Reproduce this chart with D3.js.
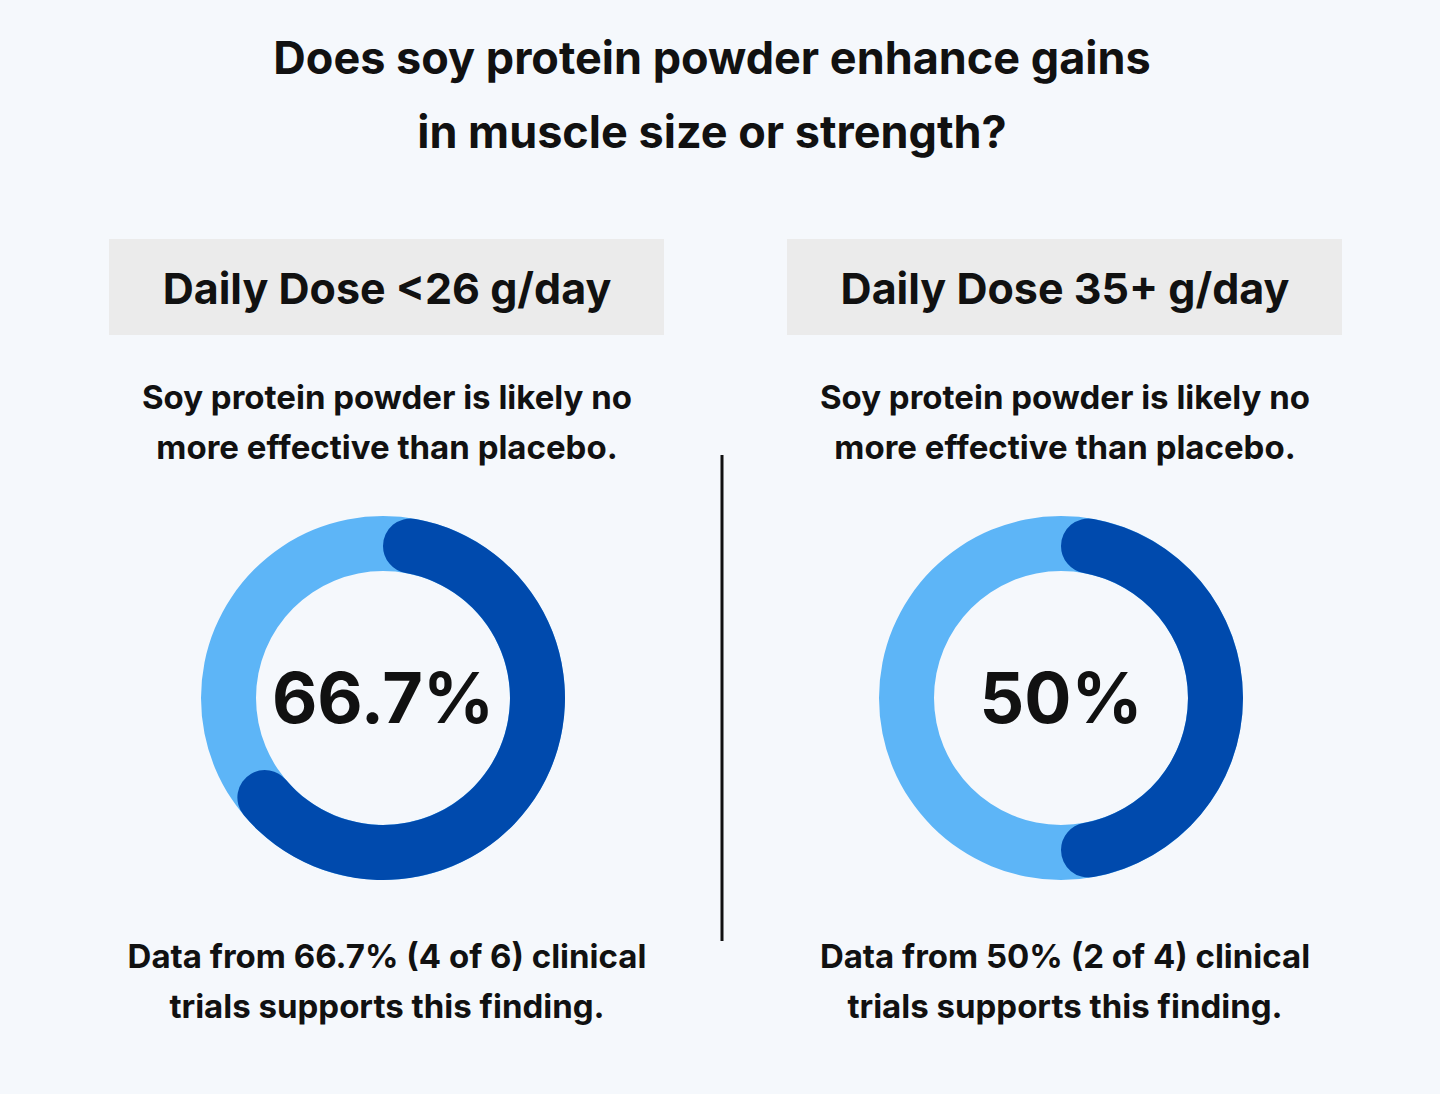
<!DOCTYPE html>
<html>
<head>
<meta charset="utf-8">
<style>
  body { margin: 0; background: #F5F8FC; }
  svg { display: block; font-family: Inter, "Liberation Sans", sans-serif; font-weight: 700; }
</style>
</head>
<body>
<div id="chart"></div>
<script src="https://cdn.jsdelivr.net/npm/d3@7"></script>
<script>
const titleLines = ["Does soy protein powder enhance gains", "in muscle size or strength?"];
const panels = ["Daily Dose <26 g/day", "Daily Dose 35+ g/day"];
const findings = [
  ["Soy protein powder is likely no", "more effective than placebo."],
  ["Soy protein powder is likely no", "more effective than placebo."]
];
const shares = [66.7, 50];
const shareLabels = ["66.7%", "50%"];
const notes = [
  ["Data from 66.7% (4 of 6) clinical", "trials supports this finding."],
  ["Data from 50% (2 of 4) clinical", "trials supports this finding."]
];

const width = 1440, height = 1094;
const svg = d3.select("#chart").append("svg")
  .attr("width", width).attr("height", height);

svg.selectAll(".title").data(titleLines).enter().append("text")
  .attr("x", 712).attr("y", (d, i) => 74 + i * 74)
  .attr("text-anchor", "middle").style("font-size", "45px").attr("fill", "#111")
  .text(d => d);

// panel centres
const x = d3.scalePoint().domain(panels).range([387, 1052]);
const angle = d3.scaleLinear().domain([0, 100]).range([0, 2 * Math.PI]);
const rOut = 182, rIn = 127;
const ring = d3.arc().innerRadius(rIn).outerRadius(rOut);
const cap = d3.arc().innerRadius(rIn).outerRadius(rOut).cornerRadius((rOut - rIn) / 2);

svg.append("line").attr("x1", 722).attr("x2", 722).attr("y1", 455).attr("y2", 941)
  .attr("stroke", "#111").attr("stroke-width", 3);

panels.forEach((p, i) => {
  const cx = x(p) + (i === 1 ? 13 : 0);
  const g = svg.append("g");
  g.append("rect").attr("x", cx - 278).attr("y", 239).attr("width", 555).attr("height", 96)
    .attr("fill", "#EBEBEB");
  g.append("text").attr("x", cx).attr("y", 304).attr("text-anchor", "middle")
    .style("font-size", "43px").attr("fill", "#111").text(p);
  g.selectAll(".f").data(findings[i]).enter().append("text")
    .attr("x", cx).attr("y", (d, j) => 409 + j * 50).attr("text-anchor", "middle")
    .style("font-size", "33px").attr("fill", "#111").text(d => d);
  const donut = g.append("g").attr("transform", `translate(${cx - 4},698)`);
  donut.append("path").attr("fill", "#5DB5F7")
    .attr("d", ring({ startAngle: 0, endAngle: 2 * Math.PI }));
  donut.append("path").attr("fill", "#004AAD")
    .attr("d", cap({ startAngle: 0, endAngle: angle(shares[i]) }));
  donut.append("text").attr("text-anchor", "middle").attr("y", 25)
    .style("font-size", "70px").attr("fill", "#111").text(shareLabels[i]);
  g.selectAll(".n").data(notes[i]).enter().append("text")
    .attr("x", cx).attr("y", (d, j) => 968 + j * 50).attr("text-anchor", "middle")
    .style("font-size", "33px").attr("fill", "#111").text(d => d);
});
</script>
</body>
</html>
